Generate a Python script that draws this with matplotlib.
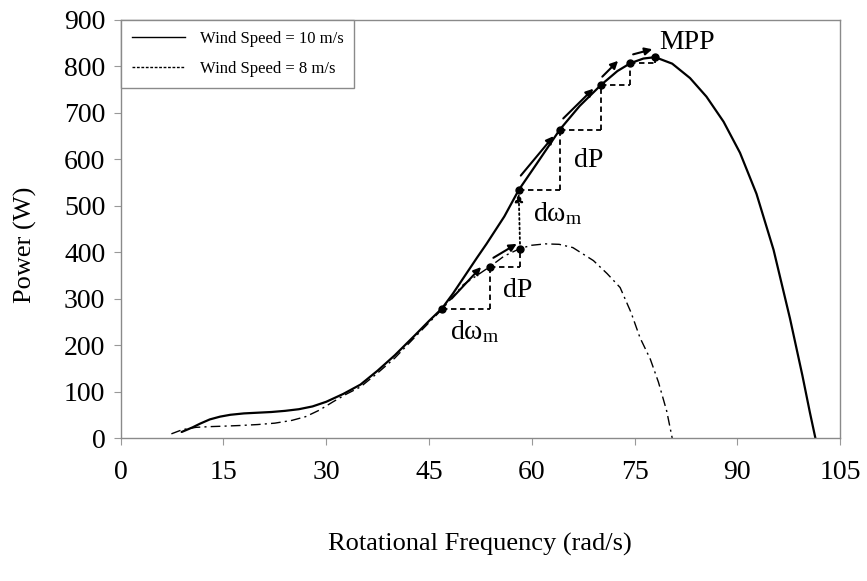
import matplotlib
matplotlib.use("Agg")
import matplotlib.pyplot as plt
from matplotlib.lines import Line2D

plt.rcParams['font.family'] = ['Liberation Serif', 'DejaVu Serif']
plt.rcParams['mathtext.fontset'] = 'custom'
plt.rcParams['mathtext.rm'] = 'Liberation Serif'
plt.rcParams['mathtext.it'] = 'Liberation Serif'

# Wind speed 10 m/s curve
w10 = [8.9, 10.5, 11.6, 13, 14.5, 16, 18, 20, 22, 24, 26, 28, 30, 32.5, 35, 37.5, 40, 43, 45,
       46.9, 48.5, 50, 52, 53.4, 56, 58.1, 60.7, 64.1, 67, 70.1, 72.5, 74.4, 76.3, 78, 80.5,
       83.1, 85.5, 88, 90.4, 92.8, 95.3, 97.7, 99.5, 100.6, 101.4]
p10 = [13, 23, 31, 40, 46, 50, 53, 54.5, 56, 58.5, 62, 68, 78, 95, 115, 145, 178, 222, 252,
       279, 311, 344, 388, 418, 477, 534, 590, 664, 715, 760, 790, 807, 817, 820, 806,
       775, 735, 681, 614, 526, 405, 257, 135, 55, 0]

# Wind speed 8 m/s curve
w8 = [7.4, 9, 11, 13, 15, 17.5, 20, 22.5, 25, 27, 29, 31, 33, 35, 37.5, 40, 43, 46.9, 50, 53.9,
      56, 58.3, 60, 62, 64, 66, 69, 71, 72.9, 74.5, 75.8, 77.3, 78.5, 79.7, 80.5]
p8 = [9, 18, 23, 24.5, 25.5, 27, 29, 32, 38, 46, 60, 78, 95, 110, 140, 172, 218, 277, 330, 369,
      392, 408, 415, 418, 417, 410, 382, 354, 324, 270, 216, 170, 120, 58, 0]

# Perturb & observe staircase points
step_lo_w = [46.9, 53.9, 58.3]
step_lo_p = [277, 369, 408]
step_hi_w = [58.1, 64.1, 70.1, 74.4, 78.0]
step_hi_p = [534, 664, 760, 807, 820]

# Arrows parallel to curves (start w, start p, end w, end p)
arrows_lo = [(48.3, 300, 52.6, 368), (54.4, 388, 57.8, 418)]
arrows_hi = [(58.4, 565, 63.2, 650), (64.6, 688, 69.0, 752), (70.3, 778, 72.6, 812),
             (74.8, 826, 77.6, 837)]

fig = plt.figure(figsize=(8.67, 5.81), dpi=100)
ax = fig.add_axes([0.1392, 0.2461, 0.8297, 0.7195])

ax.plot(w10, p10, color='black', lw=1.6, solid_capstyle='round')
ax.plot(w8, p8, color='black', lw=1.0, dashes=(7, 3, 1.5, 3))

dkw = dict(color='black', lw=1.3, dashes=(3, 2))
def stairs(ws, ps):
    for i in range(len(ws) - 1):
        ax.plot([ws[i], ws[i + 1]], [ps[i], ps[i]], **dkw)
        ax.plot([ws[i + 1], ws[i + 1]], [ps[i], ps[i + 1]], **dkw)

stairs(step_lo_w, step_lo_p)
stairs(step_hi_w, step_hi_p)
ax.plot(step_lo_w, step_lo_p, 'o', color='black', ms=5, zorder=5)
ax.plot(step_hi_w, step_hi_p, 'o', color='black', ms=5, zorder=5)

# dotted vertical jump between curves
ax.annotate('', xy=(step_hi_w[0], step_hi_p[0] - 8), xytext=(step_lo_w[-1], step_lo_p[-1]),
            arrowprops=dict(arrowstyle='-|>', color='black', lw=1.3, ls=':',
                            mutation_scale=12, shrinkA=0, shrinkB=0))

for (x0, y0, x1, y1) in arrows_lo + arrows_hi:
    ax.annotate('', xy=(x1, y1), xytext=(x0, y0),
                arrowprops=dict(arrowstyle='-|>', color='black', lw=1.5,
                                mutation_scale=11, shrinkA=0, shrinkB=0))

lab = 20
ax.text(51.7, 230, r'$\mathrm{d\omega_m}$', fontsize=lab, ha='center', va='center')
ax.text(58.0, 317, 'dP', fontsize=lab, ha='center', va='center')
ax.text(63.8, 482, r'$\mathrm{d\omega_m}$', fontsize=lab, ha='center', va='center')
ax.text(68.3, 597, 'dP', fontsize=lab, ha='center', va='center')
ax.text(82.6, 852, 'MPP', fontsize=lab, ha='center', va='center')

ax.set_xlim(0, 105)
ax.set_ylim(0, 900)
ax.set_xticks([0, 15, 30, 45, 60, 75, 90, 105])
ax.set_yticks(range(0, 901, 100))
ax.tick_params(axis='both', labelsize=20, length=5, width=0.8, color='#999999', direction='out')
ax.tick_params(axis='x', pad=11)
ax.tick_params(axis='y', pad=6)
for s in ax.spines.values():
    s.set_color('#8a8a8a')
    s.set_linewidth(1.0)

ax.set_xlabel('Rotational Frequency (rad/s)', fontsize=19)
ax.xaxis.set_label_coords(0.499, -0.226)
ax.set_ylabel('Power (W)', fontsize=19)
ax.yaxis.set_label_coords(-0.116, 0.462)

handles = [Line2D([], [], color='black', lw=1.0),
           Line2D([], [], color='black', lw=1.0, dashes=(2, 1.2))]
leg = ax.legend(handles, ['Wind Speed = 10 m/s', 'Wind Speed = 8 m/s'], loc='upper left',
                bbox_to_anchor=(0, 1), borderaxespad=0, fontsize=12, fancybox=False,
                framealpha=1, edgecolor='#8a8a8a', handlelength=3.2, handletextpad=0.9,
                borderpad=0.65, labelspacing=0.85)
leg.get_frame().set_linewidth(1.0)

fig.savefig('out.png', dpi=100)
